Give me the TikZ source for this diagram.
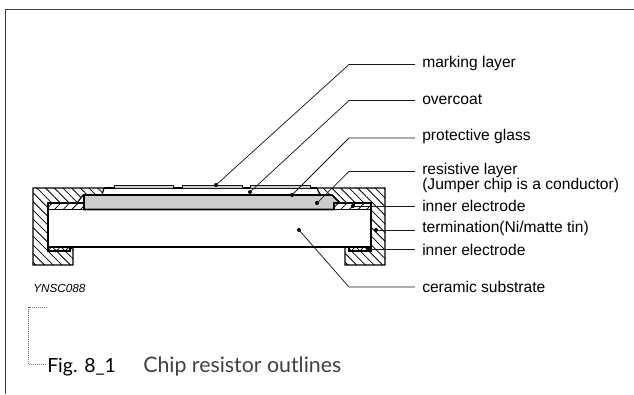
\documentclass[tikz,border=0pt]{standalone}
\usepackage{fontspec}
\setmainfont{Liberation Sans}
\newfontfamily\capfont{Lato}
\usetikzlibrary{patterns.meta}
\tikzstyle{label}=[anchor=west, font=\fontsize{11.7pt}{10.9pt}\selectfont, inner sep=0pt, align=left]
\tikzstyle{line}=[draw, black!90, line width=0.55pt]
\tikzstyle{outline}=[draw, black, line width=0.9pt]
\tikzstyle{heavy}=[draw, black, line width=1.2pt]
\tikzstyle{termhatch}=[pattern={Lines[angle=-45,distance=4.6pt,line width=0.6pt]}]
\tikzstyle{elechatch}=[pattern={Lines[angle=45,distance=4.6pt,line width=0.6pt]}]
\tikzstyle{tip}=[circle, fill=black, inner sep=0pt, minimum size=3pt]
\begin{document}
\begin{tikzpicture}[x=0.75pt, y=-0.75pt]
    \useasboundingbox (0,0) rectangle (634,394);
    % page frame
    \draw [black!75, line width=0.8pt] (5.5,394) -- (5.5,9.5) -- (634,9.5);
    % termination and electrodes
    \path [outline, termhatch] (33,188) -- (104,188) -- (102,195) -- (83,195) -- (77,203) -- (48,203)
        -- (48,247) -- (73,247) -- (73,265) -- (33,265) -- cycle;
    \path [outline, termhatch] (385,188) -- (317,188) -- (320,195) -- (332,195) -- (340,203) -- (371,203)
        -- (371,247) -- (345,247) -- (345,265) -- (385,265) -- cycle;
    \path [outline, elechatch] (48,203) rectangle (84,209.5);
    \path [outline, elechatch] (334,203) rectangle (371,209.5);
    \path [outline, elechatch] (48,247) rectangle (70,251);
    \path [outline, elechatch] (349,247) rectangle (371,251);
    % resistive layer, substrate, overcoat
    \path [heavy, fill=black!20] (84,209.5) -- (84,195) -- (332,195) -- (340,203) -- (334,203) -- (334,209.5) -- cycle;
    \draw [heavy] (48,209.5) -- (371,209.5) -- (371,247) -- (48,247) -- cycle;
    \draw [outline] (104,188) -- (317,188);
    % marking layer
    \draw [line, fill=black!20] (114,188) rectangle (173,185.5);
    \draw [line, fill=black!20] (182,188) rectangle (242,185.5);
    \draw [line, fill=black!20] (250,188) rectangle (310,185.5);
    % labels
    \node [label] at (422,63.5)  (marking)  {marking layer};
    \node [label] at (422,99.5)  (overcoat) {overcoat};
    \node [label] at (422,136.5) (glass)    {protective glass};
    \node [label] at (422,178)   (resist)   {resistive layer\\(Jumper chip is a conductor)};
    \node [label] at (422,206)   (electop)  {inner electrode};
    \node [label] at (422,228.5) (term)     {termination(Ni/matte tin)};
    \node [label] at (422,249.5) (elecbot)  {inner electrode};
    \node [label] at (422,287)   (ceramic)  {ceramic substrate};
    \node [tip] at (216,185) (tmarking)  {};
    \node [tip] at (250,192) (tovercoat) {};
    \node [tip] at (292,195) (tglass)    {};
    \node [tip] at (317,203) (tresist)   {};
    \node [tip] at (353,206) (telectop)  {};
    \node [tip] at (376,230) (tterm)     {};
    \node [tip] at (368,249) (telecbot)  {};
    \node [tip] at (299,230) (tceramic)  {};
    \coordinate (emarking)  at (415,64.5);
    \coordinate (eovercoat) at (415,100.5);
    \coordinate (eglass)    at (415,138);
    \coordinate (eresist)   at (415,171.5);
    \coordinate (eelectop)  at (415,206);
    \coordinate (eterm)     at (415,230);
    \coordinate (eelecbot)  at (415,249);
    \coordinate (eceramic)  at (415,287);
    \path [line] (emarking)  -- (349,64.5)  -- (tmarking.center);
    \path [line] (eovercoat) -- (349,100.5) -- (tovercoat.center);
    \path [line] (eglass)    -- (349,138)   -- (tglass.center);
    \path [line] (eresist)   -- (349,171.5) -- (tresist.center);
    \path [line] (eelectop)  -- (telectop.center);
    \path [line] (eterm)     -- (tterm.center);
    \path [line] (eelecbot)  -- (telecbot.center);
    \path [line] (eceramic)  -- (349,287) -- (tceramic.center);
    \node [anchor=west, inner sep=0pt, font=\fontsize{8.8pt}{9pt}\selectfont\itshape] at (33,288.5) (code) {YNSC088};
    % caption
    \node [anchor=base west, inner sep=0pt, font=\capfont\fontsize{14.6pt}{17pt}\selectfont] at (47,372) (figno) {Fig. 8\_1};
    \node [anchor=base west, inner sep=0pt, font=\capfont\fontsize{16pt}{17pt}\selectfont, black!75] at (143,372) (figtitle) {Chip resistor outlines};
    \coordinate (bracket) at (47,307);
    \draw [black!55, densely dotted, line width=0.5pt] (bracket) -- (28.5,307) -- (28.5,364) -- (figno.west |- 0,364);
\end{tikzpicture}
\end{document}
